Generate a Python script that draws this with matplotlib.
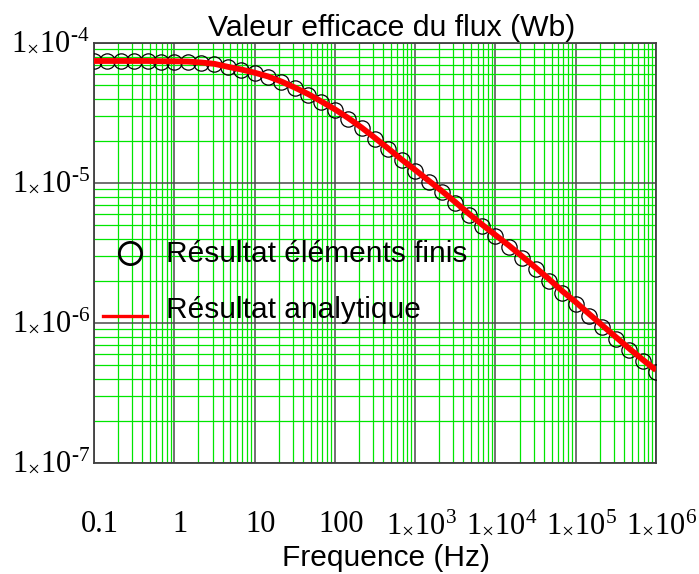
import numpy as np
import matplotlib
matplotlib.use("Agg")
import matplotlib.pyplot as plt
from matplotlib.ticker import LogLocator, NullFormatter, FixedLocator
import matplotlib.transforms as mtransforms

# Flux (Wb) vs frequency (Hz), 6 points per decade
freq = [0.1, 0.147, 0.215, 0.316, 0.464, 0.681,
        1, 1.47, 2.15, 3.16, 4.64, 6.81,
        10, 14.7, 21.5, 31.6, 46.4, 68.1,
        100, 147, 215, 316, 464, 681,
        1e3, 1.47e3, 2.15e3, 3.16e3, 4.64e3, 6.81e3,
        1e4, 1.47e4, 2.15e4, 3.16e4, 4.64e4, 6.81e4,
        1e5, 1.47e5, 2.15e5, 3.16e5, 4.64e5, 6.81e5,
        1e6]

flux_analytique = [7.44e-5, 7.44e-5, 7.44e-5, 7.44e-5, 7.44e-5, 7.41e-5,
                   7.40e-5, 7.37e-5, 7.26e-5, 7.10e-5, 6.76e-5, 6.47e-5,
                   6.14e-5, 5.77e-5, 5.31e-5, 4.81e-5, 4.32e-5, 3.82e-5,
                   3.36e-5, 2.91e-5, 2.49e-5, 2.10e-5, 1.76e-5, 1.47e-5,
                   1.24e-5, 1.04e-5, 8.77e-6, 7.31e-6, 6.05e-6, 5.05e-6,
                   4.25e-6, 3.58e-6, 2.99e-6, 2.49e-6, 2.06e-6, 1.69e-6,
                   1.41e-6, 1.16e-6, 9.60e-7, 7.94e-7, 6.57e-7, 5.48e-7,
                   4.61e-7]

flux_ef = [7.38e-5, 7.38e-5, 7.38e-5, 7.38e-5, 7.38e-5, 7.36e-5,
           7.34e-5, 7.30e-5, 7.20e-5, 7.03e-5, 6.70e-5, 6.40e-5,
           6.07e-5, 5.70e-5, 5.25e-5, 4.76e-5, 4.27e-5, 3.78e-5,
           3.32e-5, 2.88e-5, 2.46e-5, 2.07e-5, 1.74e-5, 1.45e-5,
           1.22e-5, 1.02e-5, 8.62e-6, 7.18e-6, 5.94e-6, 4.95e-6,
           4.16e-6, 3.50e-6, 2.92e-6, 2.43e-6, 2.01e-6, 1.65e-6,
           1.37e-6, 1.13e-6, 9.35e-7, 7.74e-7, 6.40e-7, 5.33e-7,
           4.49e-7]

xticks = [0.1, 1, 10, 100, 1e3, 1e4, 1e5, 1e6]
xlabels = ["0.1", "1", "10", "100",
           r"$1_{\times}10^{3}$", r"$1_{\times}10^{4}$",
           r"$1_{\times}10^{5}$", r"$1_{\times}10^{6}$"]
yticks = [1e-7, 1e-6, 1e-5, 1e-4]
ylabels = ["$1_{\\times}10^{\u20107}$", "$1_{\\times}10^{\u20106}$",
           "$1_{\\times}10^{\u20105}$", "$1_{\\times}10^{\u20104}$"]

plt.rcParams["font.family"] = ["Liberation Sans", "DejaVu Sans"]
plt.rcParams["mathtext.fontset"] = "custom"
plt.rcParams["mathtext.rm"] = "Liberation Serif"
plt.rcParams["mathtext.it"] = "Liberation Serif"
plt.rcParams["mathtext.default"] = "rm"

fig = plt.figure(figsize=(6.99, 5.74), dpi=100)
ax = fig.add_axes([94 / 699, 1 - 463 / 574, 562 / 699, 420 / 574])

ax.plot(freq, flux_ef, linestyle="none", marker="o", markersize=11,
        markerfacecolor="none", markeredgecolor="black", markeredgewidth=0.9,
        zorder=3)
ax.plot(freq, flux_analytique, color="#ff0000", linewidth=4.2, zorder=4,
        solid_capstyle="butt")

ax.set_xscale("log")
ax.set_yscale("log")
ax.set_xlim(0.1, 1e6)
ax.set_ylim(1e-7, 1e-4)

ax.xaxis.set_minor_locator(LogLocator(base=10, subs=range(2, 10), numticks=50))
ax.yaxis.set_minor_locator(LogLocator(base=10, subs=range(2, 10), numticks=50))
ax.xaxis.set_minor_formatter(NullFormatter())
ax.yaxis.set_minor_formatter(NullFormatter())
ax.set_xticks(xticks, xlabels)
ax.set_yticks(yticks, ylabels)

ax.grid(True, which="minor", color="#00e600", linewidth=0.9)
ax.grid(True, which="major", color="#4a4a4a", linewidth=1.1)
ax.tick_params(which="both", length=0)
ax.tick_params(axis="x", labelsize=22, pad=50)
ax.tick_params(axis="y", labelsize=22, pad=3)
for lab in ax.get_xticklabels():
    lab.set_fontfamily("Liberation Serif")
    lab.set_verticalalignment("baseline")
    lab.set_transform(lab.get_transform() +
                      mtransforms.ScaledTranslation(6 / 100, 0, fig.dpi_scale_trans))
for lab in ax.get_yticklabels():
    lab.set_fontfamily("Liberation Serif")
    lab.set_verticalalignment("center")

for s in ax.spines.values():
    s.set_color("#404040")
    s.set_linewidth(1.3)

fig.text(392 / 699, 1 - 36.5 / 574, "Valeur efficace du flux (Wb)",
         fontsize=21.7, ha="center", va="baseline")
fig.text(386 / 699, 1 - 566 / 574, "Frequence (Hz)",
         fontsize=21.5, ha="center", va="baseline")

# legend drawn by hand inside the plot
ax.plot([0.064], [0.5], transform=ax.transAxes, marker="o", markersize=16,
        markerfacecolor="none", markeredgecolor="black", markeredgewidth=2,
        linestyle="none", clip_on=False, zorder=5)
ax.plot([0.016, 0.094], [0.351, 0.351], transform=ax.transAxes,
        color="#ff0000", linewidth=2.4, clip_on=False, zorder=5)
ax.text(0.129, 0.479, "Résultat éléments finis", transform=ax.transAxes,
        fontsize=21.5, ha="left", va="baseline", zorder=6)
ax.text(0.129, 0.3445, "Résultat analytique", transform=ax.transAxes,
        fontsize=21.5, ha="left", va="baseline", zorder=6)

fig.savefig("out.png", dpi=100)
